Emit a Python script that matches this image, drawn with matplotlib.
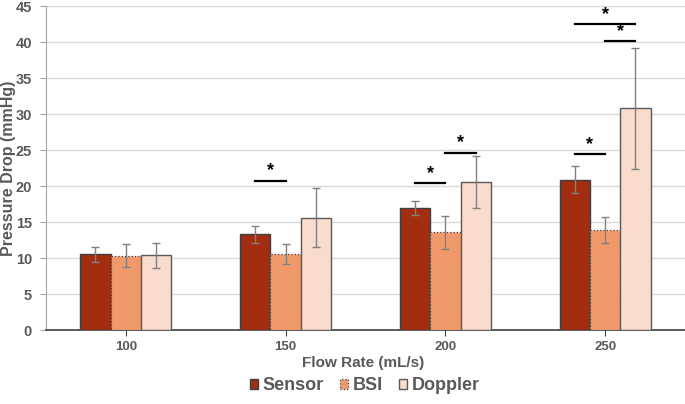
import matplotlib.pyplot as plt
import numpy as np

flow_rates = ["100", "150", "200", "250"]
sensor = [10.5, 13.3, 17.0, 20.9]
sensor_err = [1.0, 1.2, 0.95, 1.9]
bsi = [10.3, 10.6, 13.6, 13.9]
bsi_err = [1.6, 1.4, 2.3, 1.8]
doppler = [10.4, 15.6, 20.6, 30.8]
doppler_err = [1.75, 4.1, 3.6, 8.4]

# significance brackets: (category, bar a, bar b, height)
sig_pairs = [
    (1, 0, 1, 20.7),
    (2, 0, 1, 20.4),
    (2, 1, 2, 24.6),
    (3, 0, 1, 24.4),
    (3, 1, 2, 40.1),
    (3, 0, 2, 42.5),
]

plt.rcParams["font.family"] = ["Liberation Sans", "DejaVu Sans"]
plt.rcParams["font.weight"] = "bold"

text_gray = "#595959"
x = np.arange(len(flow_rates))
width = 0.19
offsets = [-width, 0.0, width]

fig = plt.figure(figsize=(6.85, 4.04), dpi=100)
ax = fig.add_axes([0.067, 0.183, 0.933, 0.802])

err_kw = dict(ecolor="#808080", elinewidth=1.0, capsize=3, capthick=1.0)
ax.bar(x + offsets[0], sensor, width, yerr=sensor_err, color="#A32D10",
       edgecolor="#404040", linewidth=1.0, label="Sensor", error_kw=err_kw, zorder=3)
ax.bar(x + offsets[1], bsi, width, yerr=bsi_err, color="#F09A6B",
       edgecolor="#404040", linewidth=0.9, linestyle=":", label="BSI", error_kw=err_kw, zorder=3)
ax.bar(x + offsets[2], doppler, width, yerr=doppler_err, color="#F9DCCB",
       edgecolor="#595959", linewidth=1.0, label="Doppler", error_kw=err_kw, zorder=3)

for cat, a, b, h in sig_pairs:
    x0 = x[cat] + offsets[a]
    x1 = x[cat] + offsets[b]
    ax.plot([x0, x1], [h, h], color="black", linewidth=1.6, zorder=4)
    ax.text((x0 + x1) / 2, h + 0.2, "*", ha="center", va="bottom",
            fontsize=13, fontweight="bold", color="black", zorder=4)

ax.set_xlim(-0.5, len(flow_rates) - 0.5)
ax.set_ylim(0, 45)
ax.set_yticks(np.arange(0, 46, 5))
ax.set_xticks(x)
ax.set_xticklabels(flow_rates)
ax.yaxis.grid(True, color="#d9d9d9", linewidth=1.0, zorder=0)
ax.set_axisbelow(True)

for side in ["top", "right"]:
    ax.spines[side].set_visible(False)
ax.spines["left"].set_color("#a6a6a6")
ax.spines["bottom"].set_color("#404040")
ax.spines["bottom"].set_linewidth(1.2)
ax.tick_params(axis="y", colors=text_gray, labelsize=10.5, length=4, color="#a6a6a6", pad=6)
ax.tick_params(axis="x", colors=text_gray, labelsize=9.5, length=4, color="#404040", pad=4)
for lbl in ax.get_xticklabels() + ax.get_yticklabels():
    lbl.set_fontweight("bold")

fig.text(0.53, 0.101, "Flow Rate (mL/s)", ha="center", va="center",
         fontsize=11, fontweight="bold", color=text_gray)
fig.text(0.012, 0.584, "Pressure Drop (mmHg)", ha="center", va="center", rotation=90,
         fontsize=11.5, fontweight="bold", color=text_gray)

leg = fig.legend(loc="center", bbox_to_anchor=(0.533, 0.045), ncol=3, frameon=False,
                 prop={"size": 13, "weight": "bold"}, handlelength=0.45, handleheight=0.45,
                 handletextpad=0.25, columnspacing=0.9, borderaxespad=0, borderpad=0)
for t in leg.get_texts():
    t.set_color(text_gray)

fig.savefig("out.png", dpi=100)
